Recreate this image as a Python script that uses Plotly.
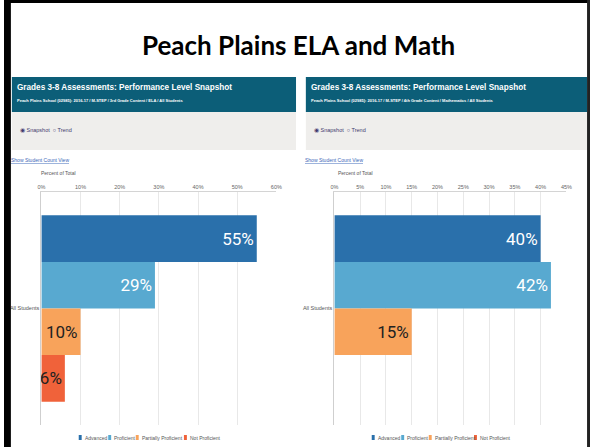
import plotly.graph_objects as go

W, H = 596, 447

# data
levels = ['Advanced', 'Proficient', 'Partially Proficient', 'Not Proficient']
group = ['All Students']
ela_pct = [55, 29, 10, 6]
math_pct = [40, 42, 15, 0]
ela_ticks = [0, 10, 20, 30, 40, 50, 60]
math_ticks = [0, 5, 10, 15, 20, 25, 30, 35, 40, 45]

main_title = 'Peach Plains ELA and Math'
panel_title = 'Grades 3-8 Assessments: Performance Level Snapshot'
ela_sub = 'Peach Plains School (02985): 2016-17 / M-STEP / 3rd Grade Content / ELA / All Students'
math_sub = 'Peach Plains School (02985): 2016-17 / M-STEP / 4th Grade Content / Mathematics / All Students'

colors = ['#2a70ab', '#58a9d0', '#f8a35b', '#f0623a']
text_colors = ['white', 'white', '#222222', '#222222']
teal = '#0c5e78'
band_gray = '#efeeec'
sans = 'Liberation Sans, Arial, sans-serif'


def px(x):
    return x / W


def py(y):
    return 1 - y / H


fig = go.Figure()

for axis_id, values in [('', ela_pct), ('2', math_pct)]:
    for i, lvl in enumerate(levels):
        v = values[i]
        fig.add_trace(go.Bar(
            y=group, x=[v], orientation='h', name=lvl,
            marker_color=colors[i], marker_line_width=0,
            text=[f'{v}%' if v else ''], textposition='inside', insidetextanchor='end',
            textangle=0, cliponaxis=False,
            insidetextfont=dict(family='Roboto, Liberation Sans, sans-serif', size=17,
                                color=text_colors[i]),
            constraintext='none', showlegend=False, hoverinfo='x+name',
            xaxis='x' + axis_id, yaxis='y' + axis_id,
        ))

axis_common = dict(side='top', showgrid=True, gridcolor='#e8e8e8', gridwidth=1,
                   showline=True, linecolor='#d4d4d4', zeroline=False, ticks='',
                   tickfont=dict(family=sans, size=5.5, color='#666'),
                   tickmode='array', fixedrange=True)
yaxis_common = dict(showline=True, linecolor='#cfcfcf', ticks='', autorange='reversed',
                    tickfont=dict(family=sans, size=5.5, color='#555'), showgrid=False,
                    domain=[py(425), py(192)], fixedrange=True)

fig.update_layout(
    width=W, height=H, margin=dict(l=0, r=0, t=0, b=0),
    paper_bgcolor='white', plot_bgcolor='white',
    barmode='group', bargap=0.2, bargroupgap=0,
    xaxis=dict(axis_common, domain=[px(38), px(277)], range=[0, 60],
               tickvals=ela_ticks, ticktext=[f'{t}%' for t in ela_ticks]),
    yaxis=dict(yaxis_common, anchor='x'),
    xaxis2=dict(axis_common, domain=[px(336), px(572)], range=[0, 45],
                tickvals=math_ticks, ticktext=[f'{t}%' for t in math_ticks], anchor='y2'),
    yaxis2=dict(yaxis_common, anchor='x2'),
)

shapes = []
annotations = []


def rect(x0, y0, x1, y1, color, layer='below'):
    shapes.append(dict(type='rect', xref='paper', yref='paper', x0=px(x0), x1=px(x1),
                       y0=py(y1), y1=py(y0), fillcolor=color, line_width=0, layer=layer))


def label(x, y, text, size, color, family=sans, xanchor='left'):
    annotations.append(dict(x=px(x), y=py(y), xref='paper', yref='paper', text=text,
                            showarrow=False, xanchor=xanchor, yanchor='middle',
                            font=dict(family=family, size=size, color=color)))


panels = [(8, 297, 36, ela_sub, [76, 106, 134, 183]),
          (307, 593, 338, math_sub, [374, 404, 432, 478])]

for x0, x1, plot_left, sub, leg_x in panels:
    rect(x0, 77, x1, 112, teal)
    rect(x0, 112, x1, 150, band_gray)
    label(x0 + 3, 88, '<b>' + panel_title + '</b>', 8.2, 'white')
    label(x0 + 3, 100, '<b>' + sub + '</b>', 4, 'white')
    label(x0 + 6, 130, '◉ Snapshot  ○ Trend', 5.5, '#3f3a6e')
    label(x0 - 3, 160, '<u>Show Student Count View</u>', 5, '#3c68b9')
    label(plot_left, 173, 'Percent of Total', 5, '#555')
    for i, lvl in enumerate(levels):
        rect(leg_x[i], 435, leg_x[i] + 3, 440, colors[i])
        label(leg_x[i] + 4, 437.5, lvl, 5, '#555')

label(300, 45, '<b>' + main_title + '</b>', 26, 'black', family='Lato, Calibri, sans-serif', xanchor='center')

# slide border
rect(0, 0, 7, H, 'black', layer='above')
rect(0, 0, W, 3, 'black', layer='above')
rect(593, 0, W, H, '#222222', layer='above')

fig.update_layout(shapes=shapes, annotations=annotations)

fig.write_html('out.html', config={'displayModeBar': False, 'responsive': False},
               post_script="document.body.style.margin='0';"
                           "document.documentElement.style.overflow='hidden';"
                           "document.body.style.overflow='hidden';")
